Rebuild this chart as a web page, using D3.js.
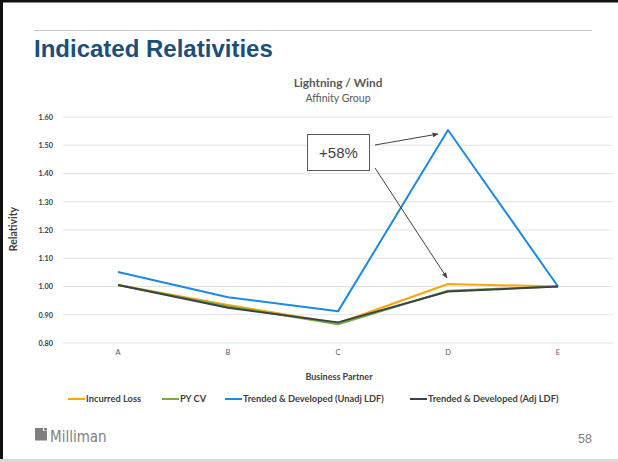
<!DOCTYPE html>
<html lang="en">
<head>
<meta charset="UTF-8">
<title>Indicated Relativities</title>
<style>
  html, body { margin: 0; padding: 0; background: #fff; }
  body { width: 618px; height: 462px; overflow: hidden; }
  text { font-family: Lato, 'Open Sans', sans-serif; }
</style>
</head>
<body>
<svg id="chart" width="618" height="462" viewBox="0 0 618 462"></svg>
<script src="https://d3js.org/d3.v7.min.js"></script>
<script>
// data
const partners = ["A", "B", "C", "D", "E"];
const incurredLoss = [1.005, 0.935, 0.870, 1.009, 1.000];
const pyCV = [1.005, 0.930, 0.866, 0.985, 1.000];
const unadjLDF = [1.051, 0.962, 0.912, 1.554, 1.000];
const adjLDF = [1.005, 0.925, 0.873, 0.982, 1.000];
const yTicks = [0.8, 0.9, 1.0, 1.1, 1.2, 1.3, 1.4, 1.5, 1.6];

const series = [
  {name: "Incurred Loss", values: incurredLoss, color: "#FFA500"},
  {name: "PY CV", values: pyCV, color: "#70AD47"},
  {name: "Trended & Developed (Unadj LDF)", values: unadjLDF, color: "#1E88E5"},
  {name: "Trended & Developed (Adj LDF)", values: adjLDF, color: "#3C4048"}
];

const svg = d3.select("#chart");
const W = 618, H = 462;

// slide frame
svg.append("rect").attr("x", 0).attr("y", 0).attr("width", W).attr("height", 2.5).attr("fill", "#111");
svg.append("rect").attr("x", 0).attr("y", 0).attr("width", 3).attr("height", H).attr("fill", "#111");
svg.append("rect").attr("x", 0).attr("y", 459).attr("width", W).attr("height", 3).attr("fill", "#d9d9d9");
svg.append("line").attr("x1", 34).attr("x2", 592).attr("y1", 30.5).attr("y2", 30.5)
  .attr("stroke", "#c8c8c8").attr("stroke-width", 1);

svg.append("text").attr("x", 34).attr("y", 57)
  .style("font-family", "'Liberation Sans', Arial, sans-serif")
  .style("font-size", "24px").style("font-weight", "bold").attr("fill", "#1B4F7A")
  .text("Indicated Relativities");

// chart titles
svg.append("text").attr("x", 338).attr("y", 87).attr("text-anchor", "middle")
  .style("font-size", "11.8px").style("font-weight", "bold").attr("fill", "#595959")
  .text("Lightning / Wind");
svg.append("text").attr("x", 338).attr("y", 102).attr("text-anchor", "middle")
  .style("font-size", "10.5px").attr("fill", "#595959")
  .text("Affinity Group");

const x = d3.scaleBand().domain(partners).range([63, 613]);
const y = d3.scaleLinear().domain([0.8, 1.6]).range([343, 117]);

// gridlines
svg.append("g").selectAll("line").data(yTicks).join("line")
  .attr("x1", 63).attr("x2", 613)
  .attr("y1", d => y(d)).attr("y2", d => y(d))
  .attr("stroke", "#e3e3e3").attr("stroke-width", 1);

// y axis labels
const yAxis = svg.append("g").attr("transform", "translate(53,0)")
  .call(d3.axisLeft(y).tickValues(yTicks).tickFormat(d3.format(".2f")).tickSize(0).tickPadding(0));
yAxis.select(".domain").remove();
yAxis.selectAll("text").style("font-family", "Lato, sans-serif")
  .style("font-size", "7.3px").style("font-weight", "bold").attr("fill", "#404040");

// x axis labels
const xAxis = svg.append("g").attr("transform", "translate(0,350)")
  .call(d3.axisBottom(x).tickSize(0).tickPadding(0));
xAxis.select(".domain").remove();
xAxis.selectAll("text").style("font-family", "Lato, sans-serif")
  .style("font-size", "7.5px").attr("fill", "#595959");

svg.append("text").attr("transform", "translate(17,229) rotate(-90)").attr("text-anchor", "middle")
  .style("font-size", "10.5px").style("font-weight", "bold").attr("fill", "#404040")
  .text("Relativity");
svg.append("text").attr("x", 339).attr("y", 380).attr("text-anchor", "middle")
  .style("font-size", "9px").style("font-weight", "bold").attr("fill", "#404040")
  .text("Business Partner");

// lines
const line = d3.line()
  .x((d, i) => x(partners[i]) + x.bandwidth() / 2)
  .y(d => y(d));

svg.append("g").selectAll("path").data(series).join("path")
  .attr("d", d => line(d.values))
  .attr("fill", "none")
  .attr("stroke", d => d.color)
  .attr("stroke-width", 2)
  .attr("stroke-linejoin", "round");

// annotation
svg.append("defs").append("marker")
  .attr("id", "arrow").attr("viewBox", "0 0 10 10").attr("refX", 9).attr("refY", 5)
  .attr("markerWidth", 6).attr("markerHeight", 6).attr("orient", "auto")
  .append("path").attr("d", "M0,1 L10,5 L0,9 z").attr("fill", "#404040");

const dx = x("D") + x.bandwidth() / 2;
svg.append("line").attr("x1", 375).attr("y1", 145).attr("x2", dx - 10).attr("y2", y(unadjLDF[3]) + 4)
  .attr("stroke", "#404040").attr("stroke-width", 1).attr("marker-end", "url(#arrow)");
svg.append("line").attr("x1", 375).attr("y1", 168).attr("x2", dx - 1).attr("y2", y(incurredLoss[3]) - 6)
  .attr("stroke", "#404040").attr("stroke-width", 1).attr("marker-end", "url(#arrow)");
svg.append("rect").attr("x", 307.5).attr("y", 134.5).attr("width", 62).attr("height", 36)
  .attr("fill", "#fff").attr("stroke", "#595959").attr("stroke-width", 1);
svg.append("text").attr("x", 338.5).attr("y", 158).attr("text-anchor", "middle")
  .style("font-family", "'Liberation Sans', Arial, sans-serif")
  .style("font-size", "15px").attr("fill", "#404040").text("+58%");

// legend
const legendX = [68, 162, 225, 410];
const legend = svg.append("g").selectAll("g").data(series).join("g")
  .attr("transform", (d, i) => `translate(${legendX[i]},399)`);
legend.append("line").attr("x1", 0).attr("x2", 17).attr("y1", 0).attr("y2", 0)
  .attr("stroke", d => d.color).attr("stroke-width", 2);
legend.append("text").attr("x", 18).attr("y", 3.3)
  .style("font-size", "9.3px").style("font-weight", "bold").attr("fill", "#404040")
  .text(d => d.name);

// footer
const logo = svg.append("g").attr("transform", "translate(35,428)");
logo.append("path").attr("d", "M0,0 H8 V3 H12 V12.5 H0 Z").attr("fill", "#7f7f7f");
logo.append("rect").attr("x", 9).attr("y", 0).attr("width", 3).attr("height", 2.5).attr("fill", "#7f7f7f");
svg.append("text").attr("x", 50).attr("y", 441.5)
  .style("font-family", "'Liberation Sans Narrow', 'DejaVu Sans Condensed', sans-serif")
  .style("font-size", "15px").attr("fill", "#7f7f7f").text("Milliman");
svg.append("text").attr("x", 592).attr("y", 443).attr("text-anchor", "end")
  .style("font-family", "'Liberation Sans', Arial, sans-serif")
  .style("font-size", "12.5px").attr("fill", "#808080").text("58");
</script>
</body>
</html>
